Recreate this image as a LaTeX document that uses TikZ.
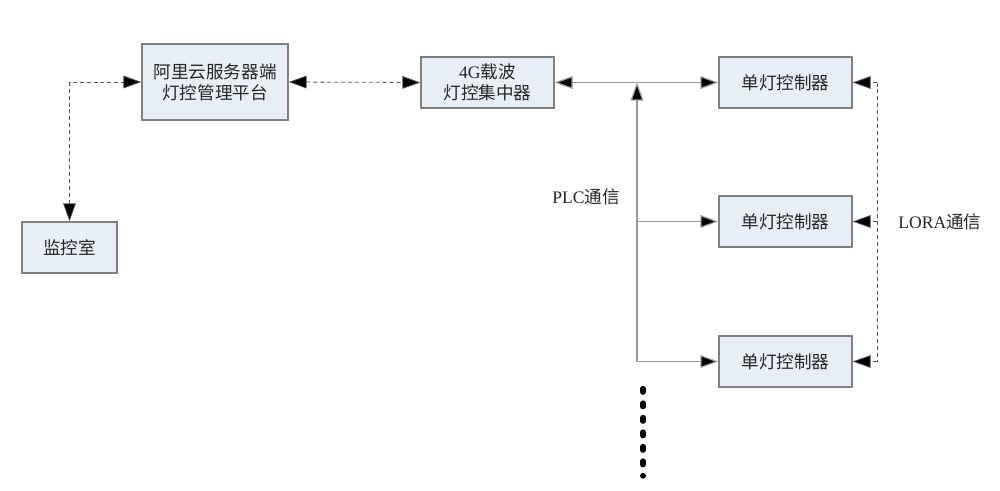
\documentclass[tikz,border=0pt]{standalone}
\usepackage{fontspec}
\setmainfont{Liberation Serif}
\newfontfamily\cjk{Noto Sans CJK SC}
\usetikzlibrary{arrows.meta}
\definecolor{boxfill}{HTML}{E8EEF8}
\definecolor{boxdraw}{HTML}{808080}
\definecolor{solidline}{HTML}{9A9A9A}
\definecolor{dashline}{HTML}{555555}
\tikzset{
  box/.style={draw=boxdraw, fill=boxfill, line width=0.9pt, inner sep=0pt, align=center,
              font=\cjk\fontsize{13.2pt}{15.8pt}\selectfont, text=black!85},
  lbl/.style={font=\cjk\fontsize{13.2pt}{15.8pt}\selectfont, text=black!85, inner sep=0pt},
  >={Triangle[length=13.5pt, width=9.5pt, fill=black]},
  dline/.style={draw=dashline, line width=0.6pt, dash pattern=on 3pt off 2.2pt},
  sline/.style={draw=solidline, line width=0.9pt},
  dots/.style={line width=3.9pt, line cap=round, dash pattern=on 2.8pt off 8.075pt, draw=black}
}
\begin{document}
\begin{tikzpicture}[x=0.75pt, y=-0.75pt]
\useasboundingbox (0,0) rectangle (1000,490);
% boxes
\node[box, minimum width=109.5pt, minimum height=57pt] (ali) at (215,82)
  {阿里云服务器端\\灯控管理平台};
\node[box, minimum width=99.75pt, minimum height=38.25pt] (c4g) at (487.5,82.5)
  {{\rmfamily 4G}载波\\灯控集中器};
\node[box, minimum width=99.75pt, minimum height=38.25pt] (s1) at (785.5,82.5) {单灯控制器};
\node[box, minimum width=99.75pt, minimum height=38.25pt] (s2) at (785.5,221.5) {单灯控制器};
\node[box, minimum width=99.75pt, minimum height=38.25pt] (s3) at (785.5,361.5) {单灯控制器};
\node[box, minimum width=71.25pt, minimum height=38.25pt] (mon) at (69.5,247.5) {监控室};
% labels
\node[lbl] (plc) at (586,197) {{\rmfamily PLC}通信};
\node[lbl] (lora) at (940,222) {{\rmfamily LORA}通信};
% dashed links
\draw[dline, <->] (mon.north) |- (ali.west);
\draw[dline, <->] (ali.east) -- (c4g.west);
% solid PLC links
\draw[sline, <->] (c4g.east) -- (s1.west);
\coordinate (pbot) at (637,361.5);
\draw[sline, ->] (pbot) -- (pbot |- c4g.east);
\draw[sline, ->] (pbot |- s2.west) -- (s2.west);
\draw[sline, ->] (pbot) -- (s3.west);
% LORA dashed links
\coordinate (rtop) at (877,82.5);
\coordinate (rbot) at (877,361.5);
\draw[dline] (rtop) -- (rbot);
\draw[dline, ->] (rtop) -- (s1.east);
\draw[dline, ->] (rtop |- s2.east) -- (s2.east);
\draw[dline, ->] (rbot) -- (s3.east);
% continuation dots
\coordinate (dtop) at (643,388.5);
\coordinate (dbot) at (643,476);
\draw[dots] (dtop) -- (dbot);
\end{tikzpicture}
\end{document}
